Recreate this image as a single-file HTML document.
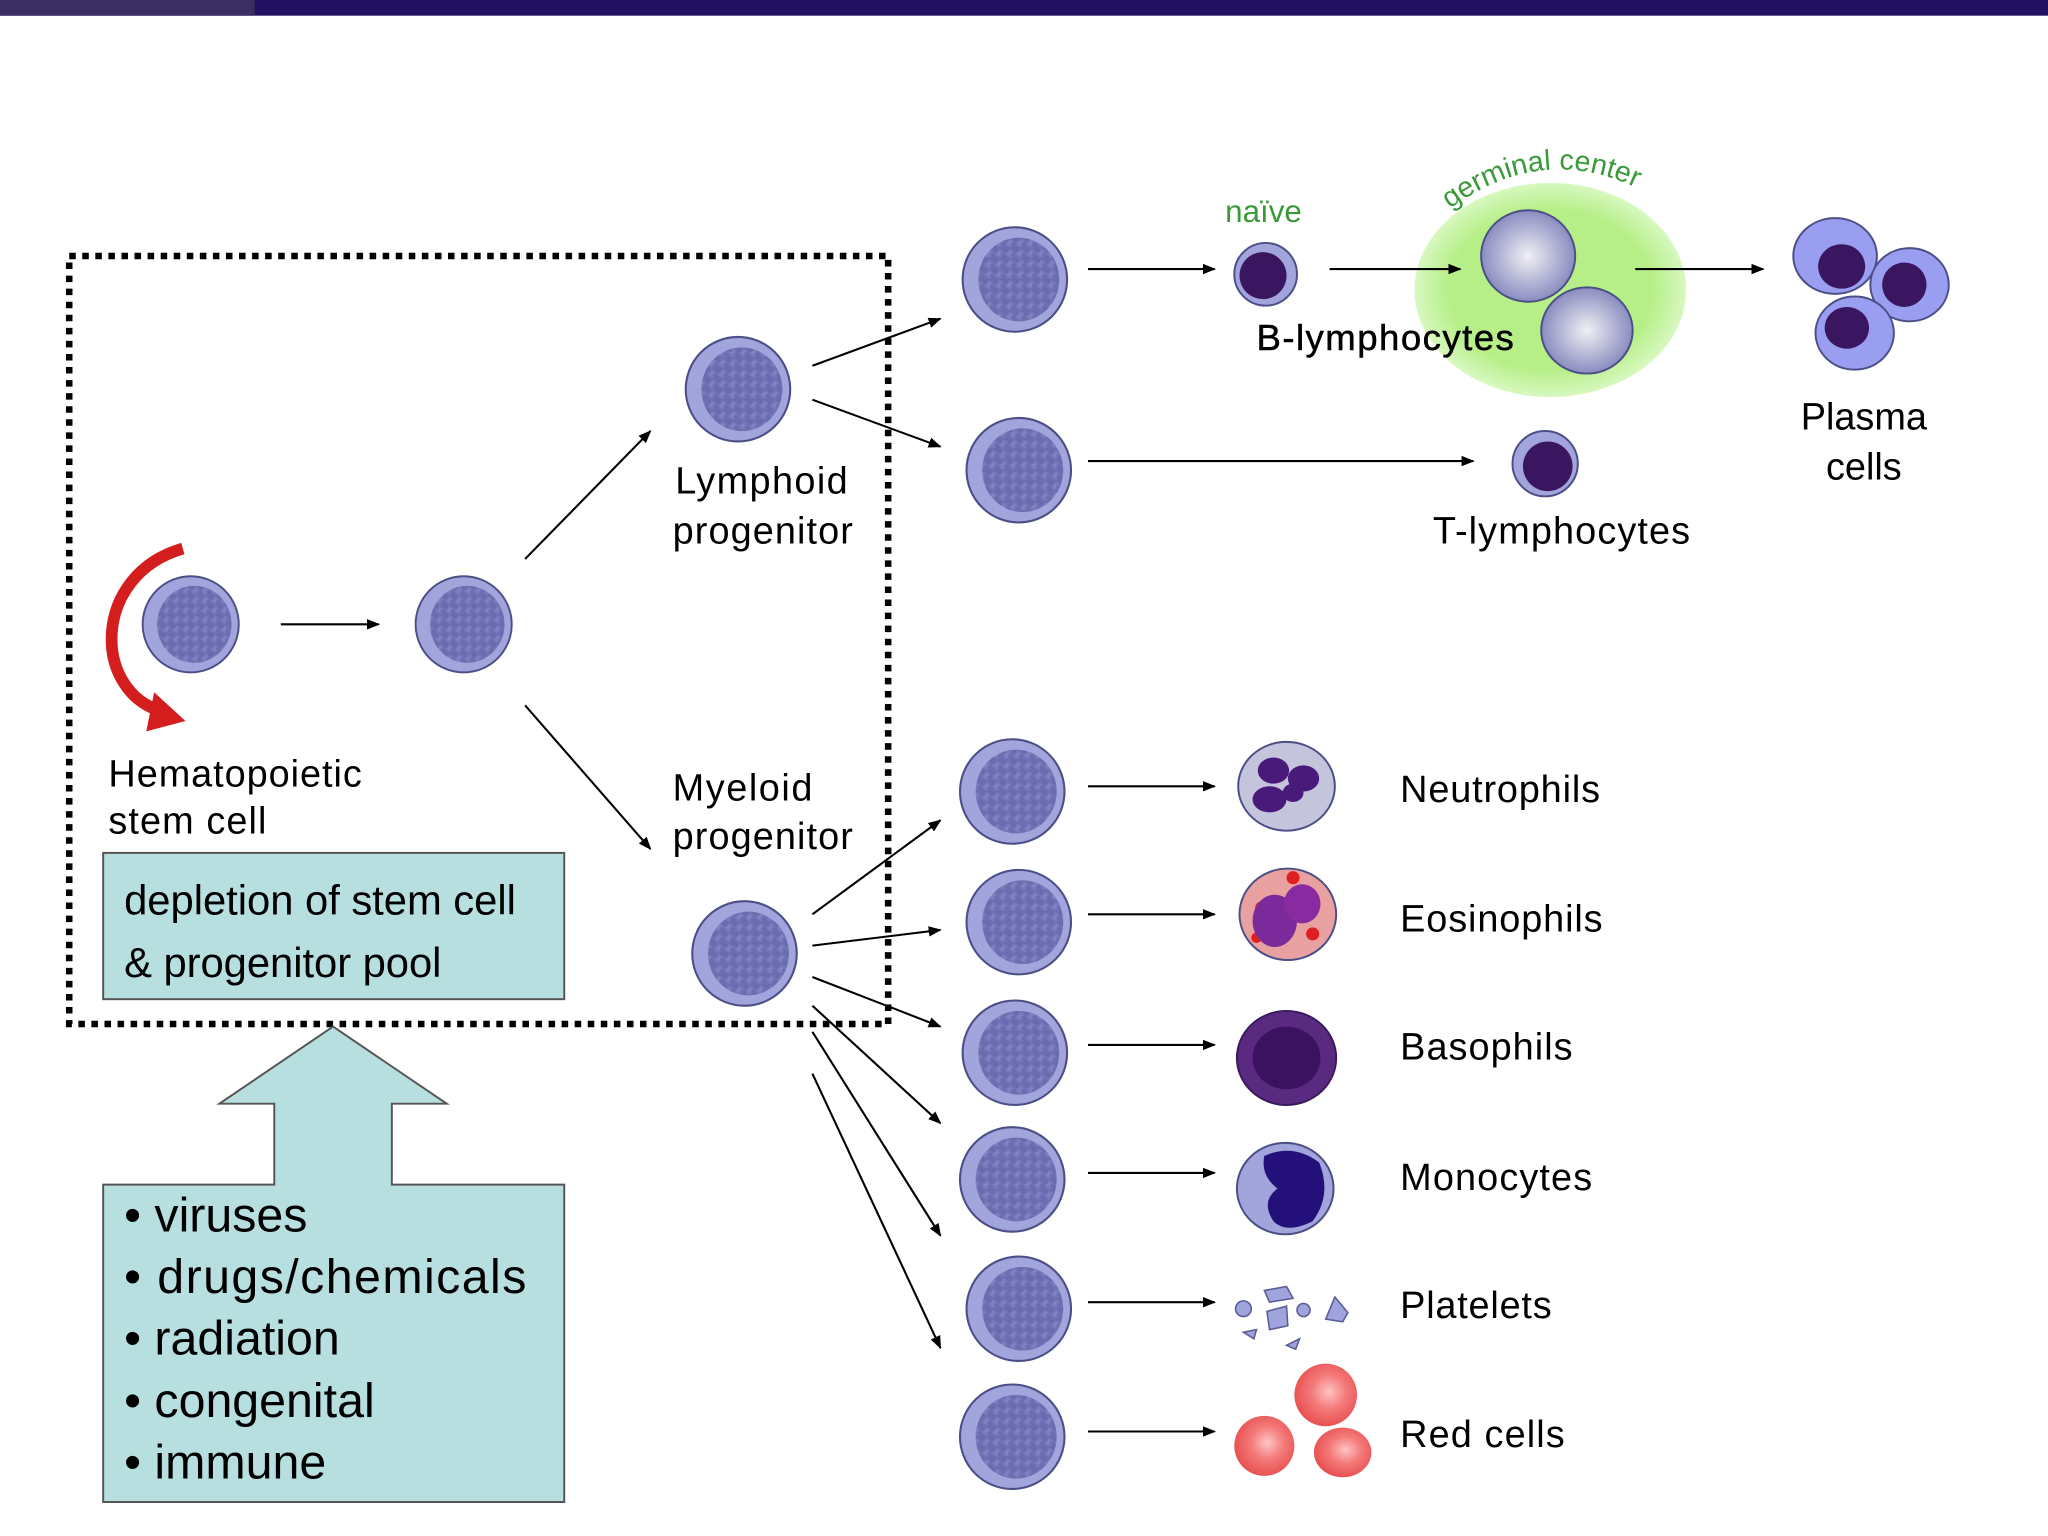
<!DOCTYPE html>
<html><head><meta charset="utf-8"><style>
html,body{margin:0;padding:0;background:#fff}
svg{display:block}
text{font-family:"Liberation Sans",sans-serif}
</style></head><body>
<svg width="2048" height="1536" viewBox="0 0 1568 1176" xmlns="http://www.w3.org/2000/svg">
<defs>
<marker id="ah" markerWidth="10" markerHeight="8" refX="9" refY="4" orient="auto" markerUnits="userSpaceOnUse"><path d="M0,0 L10,4 L0,8 z" fill="#000"/></marker>
<radialGradient id="nuc" cx="50%" cy="50%" r="50%"><stop offset="0" stop-color="#8a8ccb"/><stop offset="0.7" stop-color="#7274b8"/><stop offset="1" stop-color="#5f60a6"/></radialGradient>
<pattern id="mot" width="8" height="8" patternUnits="userSpaceOnUse"><rect width="8" height="8" fill="url(#nuc)"/><circle cx="2" cy="2" r="1.4" fill="#55579c" opacity=".6"/><circle cx="6" cy="5" r="1.2" fill="#4d4f95" opacity=".5"/></pattern>
<g id="cell"><ellipse cx="0" cy="0" rx="40" ry="40" fill="#a2a4dc" stroke="#4c4e86" stroke-width="1.6"/><ellipse cx="3" cy="0" rx="31" ry="32" fill="#7b7dbf"/><ellipse cx="3" cy="0" rx="31" ry="32" fill="url(#mot)" opacity=".6"/></g>
<radialGradient id="gc" cx="50%" cy="50%" r="50%"><stop offset=".75" stop-color="#b6ef88"/><stop offset="1" stop-color="#d8f8c0"/></radialGradient>
<radialGradient id="rbc" cx="55%" cy="45%" r="55%"><stop offset="0" stop-color="#ffc4c4"/><stop offset=".5" stop-color="#f47a7a"/><stop offset="1" stop-color="#e85252"/></radialGradient>
<radialGradient id="gcell" cx="50%" cy="50%" r="50%"><stop offset="0" stop-color="#f0f0f4"/><stop offset="1" stop-color="#8a8cc0"/></radialGradient>
</defs>
<rect width="1568" height="1176" fill="#fff"/>
<rect x="0" y="0" width="1568" height="12" fill="#221060"/>
<rect x="0" y="0" width="195" height="12" fill="#3a2e62"/>

<rect x="53" y="196" width="627" height="588" fill="none" stroke="#000" stroke-width="5" stroke-dasharray="5 5"/>

<path d="M140,420 C70,440 70,530 125,545" fill="none" stroke="#d41e1e" stroke-width="9"/>
<path d="M118,530 L142,552 L112,560 z" fill="#d41e1e"/>

<g transform="translate(146,478) scale(0.92)"><use href="#cell"/></g>
<g transform="translate(355,478) scale(0.92)"><use href="#cell"/></g>
<g transform="translate(565,298)"><use href="#cell"/></g>
<g transform="translate(570,730)"><use href="#cell"/></g>
<g transform="translate(777,214)"><use href="#cell"/></g>
<g transform="translate(780,360)"><use href="#cell"/></g>
<g transform="translate(775,606)"><use href="#cell"/></g>
<g transform="translate(780,706)"><use href="#cell"/></g>
<g transform="translate(777,806)"><use href="#cell"/></g>
<g transform="translate(775,903)"><use href="#cell"/></g>
<g transform="translate(780,1002)"><use href="#cell"/></g>
<g transform="translate(775,1100)"><use href="#cell"/></g>

<ellipse cx="1187" cy="222" rx="104" ry="82" fill="url(#gc)"/>

<g stroke="#000" stroke-width="1.6" marker-end="url(#ah)">
<line x1="215" y1="478" x2="290" y2="478"/>
<line x1="402" y1="428" x2="498" y2="330"/>
<line x1="402" y1="540" x2="498" y2="650"/>
<line x1="622" y1="280" x2="720" y2="244"/>
<line x1="622" y1="306" x2="720" y2="342"/>
<line x1="622" y1="700" x2="720" y2="628"/>
<line x1="622" y1="724" x2="720" y2="712"/>
<line x1="622" y1="748" x2="720" y2="786"/>
<line x1="622" y1="770" x2="720" y2="860"/>
<line x1="622" y1="790" x2="720" y2="946"/>
<line x1="622" y1="822" x2="720" y2="1032"/>
<line x1="833" y1="206" x2="930" y2="206"/>
<line x1="1018" y1="206" x2="1118" y2="206"/>
<line x1="1252" y1="206" x2="1350" y2="206"/>
<line x1="833" y1="353" x2="1128" y2="353"/>
<line x1="833" y1="602" x2="930" y2="602"/>
<line x1="833" y1="700" x2="930" y2="700"/>
<line x1="833" y1="800" x2="930" y2="800"/>
<line x1="833" y1="898" x2="930" y2="898"/>
<line x1="833" y1="997" x2="930" y2="997"/>
<line x1="833" y1="1096" x2="930" y2="1096"/>
</g>

<text x="938" y="170" font-size="24" fill="#3a9a3a">naïve</text>
<circle cx="969" cy="210" r="24" fill="#a2a4dc" stroke="#4c4e86" stroke-width="1.5"/>
<circle cx="967" cy="211" r="18" fill="#3a1560"/>
<path id="arc" d="M1110,160 Q1185,105 1265,150" fill="none"/>
<text font-size="22" fill="#3a9a3a"><textPath href="#arc">germinal center</textPath></text>
<ellipse cx="1170" cy="196" rx="36" ry="35" fill="url(#gcell)" stroke="#4c4e86" stroke-width="1.5"/>
<ellipse cx="1215" cy="253" rx="35" ry="33" fill="url(#gcell)" stroke="#4c4e86" stroke-width="1.5"/>
<text x="962" y="268" font-size="28" fill="#000" stroke="#000" stroke-width="0.4" textLength="197">B-lymphocytes</text>

<g stroke="#4c4e86" stroke-width="1.5">
<ellipse cx="1405" cy="196" rx="32" ry="29" fill="#9a9ef0"/>
<ellipse cx="1462" cy="218" rx="30" ry="28" fill="#9a9ef0"/>
<ellipse cx="1420" cy="255" rx="30" ry="28" fill="#9a9ef0"/>
</g>
<ellipse cx="1410" cy="204" rx="18" ry="17" fill="#3a1560"/>
<ellipse cx="1458" cy="218" rx="17" ry="17" fill="#3a1560"/>
<ellipse cx="1414" cy="251" rx="17" ry="16" fill="#3a1560"/>
<text x="1427" y="329" font-size="29" text-anchor="middle">Plasma</text>
<text x="1427" y="367" font-size="29" text-anchor="middle">cells</text>

<circle cx="1183" cy="355" r="25" fill="#a2a4dc" stroke="#4c4e86" stroke-width="1.5"/>
<circle cx="1185" cy="357" r="19" fill="#3a1560"/>
<text x="1097" y="416" font-size="29" textLength="197">T-lymphocytes</text>

<ellipse cx="985" cy="602" rx="37" ry="34" fill="#c4c4dc" stroke="#4c4e86" stroke-width="1.5"/>
<ellipse cx="975" cy="590" rx="12" ry="10" fill="#4a1a7a"/><ellipse cx="998" cy="596" rx="12" ry="10" fill="#4a1a7a"/><ellipse cx="972" cy="612" rx="13" ry="10" fill="#4a1a7a"/><ellipse cx="990" cy="607" rx="8" ry="7" fill="#4a1a7a"/>
<ellipse cx="986" cy="700" rx="37" ry="35" fill="#e8a0a0" stroke="#4c4e86" stroke-width="1.5"/>
<circle cx="966" cy="695" r="5" fill="#e02020"/><circle cx="1005" cy="715" r="5" fill="#e02020"/><circle cx="990" cy="672" r="5" fill="#e02020"/><circle cx="962" cy="718" r="4" fill="#e02020"/>
<ellipse cx="976" cy="705" rx="17" ry="20" fill="#7a2a9a"/><ellipse cx="997" cy="692" rx="14" ry="15" fill="#8a2aa0"/>
<ellipse cx="985" cy="810" rx="38" ry="36" fill="#5a2a80" stroke="#3a1a5a" stroke-width="1.5"/>
<ellipse cx="985" cy="810" rx="26" ry="24" fill="#3a1260"/>
<ellipse cx="984" cy="910" rx="37" ry="35" fill="#a2a4dc" stroke="#4c4e86" stroke-width="1.5"/>
<path d="M968,885 Q990,875 1010,890 Q1020,915 1005,935 Q985,945 975,935 Q965,920 978,910 Q965,900 968,885z" fill="#24107a"/>
<g fill="#a0a4dc" stroke="#5a5c96" stroke-width="1.2">
<circle cx="952" cy="1002" r="6"/><path d="M968,988 L985,985 L990,994 L972,997z"/><path d="M970,1004 L985,1000 L986,1015 L972,1018z"/><circle cx="998" cy="1003" r="5"/><path d="M1015,1010 L1022,993 L1032,1005 L1028,1012z"/><path d="M952,1020 L962,1018 L960,1025z"/><path d="M985,1030 L995,1025 L992,1033z"/>
</g>
<circle cx="1015" cy="1068" r="24" fill="url(#rbc)"/>
<circle cx="968" cy="1107" r="23" fill="url(#rbc)"/>
<ellipse cx="1028" cy="1112" rx="22" ry="19" fill="url(#rbc)"/>

<g font-size="29" fill="#000">
<text x="1072" y="614" textLength="153">Neutrophils</text>
<text x="1072" y="713" textLength="155">Eosinophils</text>
<text x="1072" y="811" textLength="132">Basophils</text>
<text x="1072" y="911" textLength="147">Monocytes</text>
<text x="1072" y="1009" textLength="116">Platelets</text>
<text x="1072" y="1108" textLength="126">Red cells</text>
<text x="517" y="378" textLength="132">Lymphoid</text>
<text x="515" y="416" textLength="138">progenitor</text>
<text x="515" y="613" textLength="107">Myeloid</text>
<text x="515" y="650" textLength="138">progenitor</text>
<text x="83" y="602" textLength="194">Hematopoietic</text>
<text x="83" y="638" textLength="121">stem cell</text>
</g>

<rect x="79" y="653" width="353" height="112" fill="#b8dfe0" stroke="#555" stroke-width="1.5"/>
<text x="95" y="700" font-size="32" textLength="300">depletion of stem cell</text>
<text x="95" y="748" font-size="32" textLength="243">&amp; progenitor pool</text>

<polygon points="79,907 210,907 210,845 168,845 255,786 342,845 300,845 300,907 432,907 432,1150 79,1150" fill="#b8dfe0" stroke="#555" stroke-width="1.5"/>
<g font-size="37">
<text x="95" y="943">• viruses</text>
<text x="95" y="990" textLength="308">• drugs/chemicals</text>
<text x="95" y="1037">• radiation</text>
<text x="95" y="1085">• congenital</text>
<text x="95" y="1132">• immune</text>
</g>
</svg>
</body></html>
